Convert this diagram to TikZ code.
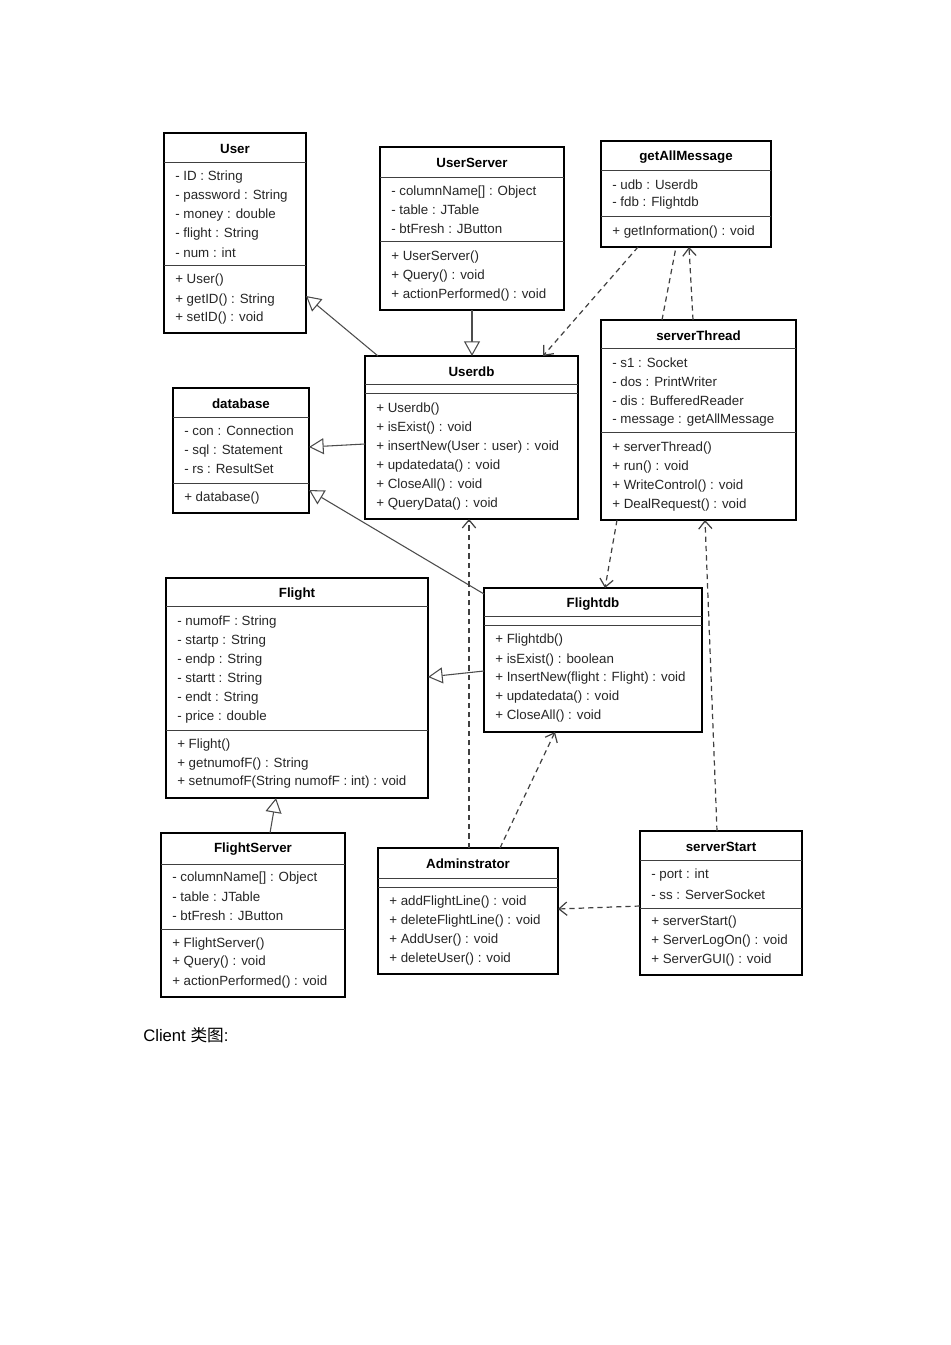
\documentclass[tikz,border=0pt]{standalone}
\usepackage{fontspec}
\setmainfont{Liberation Sans}
\newfontfamily\cjk{Noto Sans CJK SC}
\usetikzlibrary{arrows.meta}
\tikzset{
  box/.style={draw,line width=1.3pt,inner sep=0,outer sep=0},
  sep/.style={line width=0.7pt,color=black!75},
  ttl/.style={font=\bfseries\fontsize{10}{12}\selectfont,inner sep=0},
  it/.style={anchor=west,font=\fontsize{10}{12}\selectfont,inner sep=0,text=black!85},
  gen/.style={draw=black!70,line width=0.8pt,-{Triangle[open,length=11pt,width=12pt,fill=white]}},
  dep/.style={draw=black!75,line width=0.9pt,dash pattern=on 4pt off 3pt,-{Straight Barb[length=6pt,width=10pt]}},
  dl/.style={draw=black!75,line width=0.9pt,dash pattern=on 4pt off 3pt}
}
\newcommand{\cls}[6]{% name x1 y1 x2 y2 title
  \node[box,minimum width={(#4-#2)*0.75pt},minimum height={(#5-#3)*0.75pt}] (#1) at ({(#2+#4)/2},{(#3+#5)/2}) {};
  \node[ttl] (#1-t) at ({(#2+#4)/2},{#3+16}) {#6};}
\newcommand{\hs}[3]{\draw[sep] (#1,#3) -- (#2,#3);}
\newcommand{\tl}[3]{\node[it] at (#1,#2) {#3};}
\begin{document}
\begin{tikzpicture}[x=0.75pt,y=-0.75pt]
\useasboundingbox[fill=white] (0,0) rectangle (950,1345);
% User
\cls{User}{164}{133}{306}{333}{User}
\hs{164}{306}{162}\hs{164}{306}{265}
\tl{175}{177}{- ID : String}\tl{175}{196}{- password : String}\tl{175}{215}{- money : double}
\tl{175}{234}{- flight : String}\tl{175}{253}{- num : int}
\tl{175}{280}{+ User()}\tl{175}{300}{+ getID() : String}\tl{175}{318}{+ setID() : void}
% UserServer
\cls{UserServer}{380}{147}{564}{310}{UserServer}
\hs{380}{564}{177}\hs{380}{564}{241}
\tl{391}{192}{- columnName[] : Object}\tl{391}{210}{- table : JTable}\tl{391}{229}{- btFresh : JButton}
\tl{391}{257}{+ UserServer()}\tl{391}{276}{+ Query() : void}\tl{391}{295}{+ actionPerformed() : void}
% getAllMessage
\cls{getAllMessage}{601}{141}{771}{247}{getAllMessage}
\hs{601}{771}{170}\hs{601}{771}{216}
\tl{612}{185}{- udb : Userdb}\tl{612}{203}{- fdb : Flightdb}
\tl{612}{232}{+ getInformation() : void}
% serverThread
\cls{serverThread}{601}{320}{796}{520}{serverThread}
\hs{601}{796}{348}\hs{601}{796}{432}
\tl{612}{363}{- s1 : Socket}\tl{612}{382}{- dos : PrintWriter}\tl{612}{401}{- dis : BufferedReader}\tl{612}{420}{- message : getAllMessage}
\tl{612}{448}{+ serverThread()}\tl{612}{467}{+ run() : void}\tl{612}{486}{+ WriteControl() : void}\tl{612}{505}{+ DealRequest() : void}
% Userdb
\cls{Userdb}{365}{356}{578}{519}{Userdb}
\hs{365}{578}{384}\hs{365}{578}{393}
\tl{376}{409}{+ Userdb()}\tl{376}{428}{+ isExist() : void}\tl{376}{447}{+ insertNew(User : user) : void}
\tl{376}{466}{+ updatedata() : void}\tl{376}{485}{+ CloseAll() : void}\tl{376}{504}{+ QueryData() : void}
% database
\cls{database}{173}{388}{309}{513}{database}
\hs{173}{309}{417}\hs{173}{309}{483}
\tl{184}{431}{- con : Connection}\tl{184}{451}{- sql : Statement}\tl{184}{469}{- rs : ResultSet}
\tl{184}{498}{+ database()}
% Flight
\cls{Flight}{166}{578}{428}{798}{Flight}
\hs{166}{428}{606}\hs{166}{428}{730}
\tl{177}{622}{- numofF : String}\tl{177}{641}{- startp : String}\tl{177}{660}{- endp : String}
\tl{177}{679}{- startt : String}\tl{177}{698}{- endt : String}\tl{177}{717}{- price : double}
\tl{177}{745}{+ Flight()}\tl{177}{764}{+ getnumofF() : String}\tl{177}{782}{+ setnumofF(String numofF : int) : void}
% Flightdb
\cls{Flightdb}{484}{588}{702}{732}{Flightdb}
\hs{484}{702}{616}\hs{484}{702}{625}
\tl{495}{640}{+ Flightdb()}\tl{495}{660}{+ isExist() : boolean}\tl{495}{678}{+ InsertNew(flight : Flight) : void}
\tl{495}{697}{+ updatedata() : void}\tl{495}{716}{+ CloseAll() : void}
% FlightServer
\cls{FlightServer}{161}{833}{345}{997}{FlightServer}
\hs{161}{345}{864}\hs{161}{345}{929}
\tl{172}{878}{- columnName[] : Object}\tl{172}{897}{- table : JTable}\tl{172}{916}{- btFresh : JButton}
\tl{172}{944}{+ FlightServer()}\tl{172}{962}{+ Query() : void}\tl{172}{982}{+ actionPerformed() : void}
% Adminstrator
\cls{Adminstrator}{378}{848}{558}{974}{Adminstrator}
\hs{378}{558}{878}\hs{378}{558}{887}
\tl{389}{902}{+ addFlightLine() : void}\tl{389}{921}{+ deleteFlightLine() : void}
\tl{389}{940}{+ AddUser() : void}\tl{389}{959}{+ deleteUser() : void}
% serverStart
\cls{serverStart}{640}{831}{802}{975}{serverStart}
\hs{640}{802}{860}\hs{640}{802}{908}
\tl{651}{875}{- port : int}\tl{651}{895}{- ss : ServerSocket}
\tl{651}{922}{+ serverStart()}\tl{651}{941}{+ ServerLogOn() : void}\tl{651}{960}{+ ServerGUI() : void}
% caption
\node[anchor=west,inner sep=0,font=\fontsize{12.5}{14}\selectfont] (cap) at (143,1035) {Client {\cjk 类图}:};
% generalizations
\draw[gen] (Userdb.north west)++(13,0) coordinate (g1) -- (User.south east |- 0,296);
\draw[gen] (UserServer.south) -- (Userdb.north -| UserServer.south);
\draw[gen] (Userdb.west |- 0,444) -- (database.east |- 0,447);
\draw[gen] (Flightdb.north west)++(0,6) coordinate (g2) -- (database.east |- 0,490);
\draw[gen] (Flightdb.west |- 0,671) -- (Flight.east |- 0,677);
\draw[gen] (FlightServer.north -| 270,0) -- (Flight.south -| 276,0);
% dependencies
\draw[dep] (getAllMessage.south -| 638,0) -- (Userdb.north -| 543,0);
\draw[dl] (serverThread.north -| 662,0) -- (getAllMessage.south -| 676,0);
\draw[dep] (serverThread.north -| 693,0) -- (getAllMessage.south -| 689,0);
\draw[dep] (serverThread.south -| 617,0) -- (Flightdb.north -| 605,0);
\draw[dep] (Adminstrator.north -| 469,0) -- (Userdb.south -| 469,0);
\draw[dep] (Adminstrator.north -| 500,0) -- (Flightdb.south -| 555,0);
\draw[dep] (serverStart.north -| 717,0) -- (serverThread.south -| 705,0);
\draw[dep] (serverStart.west |- 0,906) -- (Adminstrator.east |- 0,909);
\end{tikzpicture}
\end{document}
